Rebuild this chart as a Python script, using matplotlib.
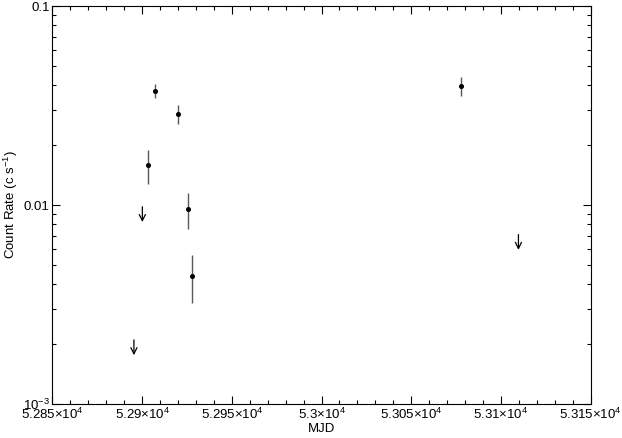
import numpy as np
import matplotlib.pyplot as plt
from matplotlib.ticker import MultipleLocator, FixedLocator, FuncFormatter, LogLocator, NullFormatter

# Detections: MJD, count rate, lower/upper error bar ends
mjd = [52907.2, 52920.0, 52903.2, 52925.4, 52927.8, 53077.8]
rate = [0.0374, 0.0286, 0.0158, 0.0095, 0.0044, 0.0396]
rate_lo = [0.0345, 0.0255, 0.0128, 0.0076, 0.0032, 0.0354]
rate_hi = [0.0405, 0.0319, 0.0188, 0.0115, 0.0056, 0.0438]

# Upper limits
ul_mjd = [52900.1, 52895.4, 53109.8]
ul_rate = [0.0098, 0.0021, 0.0071]

plt.rcParams['font.family'] = ['Liberation Sans', 'DejaVu Sans']
plt.rcParams['mathtext.fontset'] = 'custom'
plt.rcParams['mathtext.rm'] = 'Liberation Sans'

fig = plt.figure(figsize=(6.22, 4.38), dpi=100)
ax = fig.add_axes([0.0844, 0.0776, 0.865, 0.9087])

err = [np.array(rate) - np.array(rate_lo), np.array(rate_hi) - np.array(rate)]
ax.errorbar(mjd, rate, yerr=err, fmt='none', ecolor='0.35', elinewidth=1.0, capsize=0)
ax.plot(mjd, rate, 'o', color='black', ms=2.6, zorder=3)

for x, y in zip(ul_mjd, ul_rate):
    ax.annotate('', xy=(x, y), xytext=(0, -11), textcoords='offset points',
                arrowprops=dict(arrowstyle='<-', color='black', lw=0.9,
                                shrinkA=0, shrinkB=0, mutation_scale=11))

ax.set_yscale('log')
ax.set_xlim(52850, 53150)
ax.set_ylim(1e-3, 0.1)

ax.xaxis.set_major_locator(MultipleLocator(50))
ax.xaxis.set_minor_locator(MultipleLocator(10))
ax.xaxis.set_major_formatter(FuncFormatter(
    lambda v, p: r'$\mathregular{%g{\times}10^4}$' % (v / 1e4)))

ax.yaxis.set_major_locator(FixedLocator([1e-3, 1e-2, 1e-1]))
ax.yaxis.set_minor_locator(LogLocator(base=10, subs=np.arange(2, 10)))
ax.yaxis.set_minor_formatter(NullFormatter())
ylabels = {1e-3: r'$\mathregular{10^{-3}}$', 1e-2: '0.01', 1e-1: '0.1'}
ax.yaxis.set_major_formatter(FuncFormatter(
    lambda v, p: min(ylabels.items(), key=lambda kv: abs(np.log10(kv[0]) - np.log10(v)))[1]))

ax.tick_params(which='both', direction='in', top=True, right=True, labelsize=9.5, pad=2)
ax.tick_params(which='major', length=6, width=0.8)
ax.tick_params(which='minor', length=3, width=0.8)
for s in ax.spines.values():
    s.set_linewidth(0.8)

ax.set_xlabel('MJD', fontsize=9.5, labelpad=1)
ax.set_ylabel(r'Count Rate (c s$\mathregular{^{-1}}$)', fontsize=9.5, labelpad=2)

fig.savefig('out.png', dpi=100)
